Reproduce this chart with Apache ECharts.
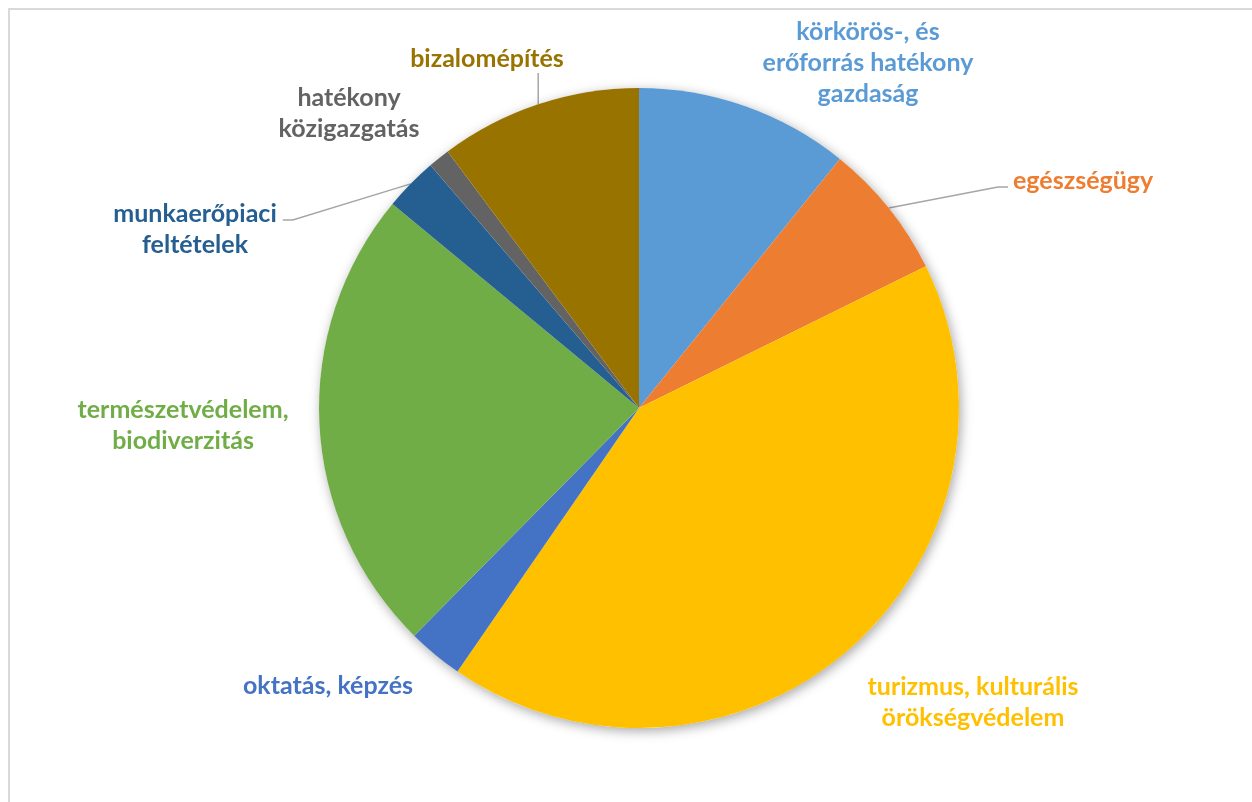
<!DOCTYPE html>
<html>
<head>
<meta charset="utf-8">
<title>pie</title>
<script src="https://cdn.jsdelivr.net/npm/echarts@6/dist/echarts.min.js"></script>
<style>
  html, body { margin: 0; padding: 0; background: #fff; }
  #chart { width: 1252px; height: 802px; }
</style>
</head>
<body>
<div id="chart"></div>
<script>
  // kategóriák (sortörésekkel, ahogy a képen)
  var names = [
    "körkörös-, és\nerőforrás hatékony\ngazdaság",
    "egészségügy",
    "turizmus, kulturális\nörökségvédelem",
    "oktatás, képzés",
    "természetvédelem,\nbiodiverzitás",
    "munkaerőpiaci\nfeltételek",
    "hatékony\nközigazgatás",
    "bizalomépítés"
  ];
  // arányok (%), a szeletek szögeiből becsülve
  var values = [10.8, 6.9, 41.9, 2.8, 23.6, 2.7, 1.1, 10.2];
  var colors = ["#5B9BD5", "#ED7D31", "#FFC000", "#4472C4", "#70AD47", "#255E91", "#636363", "#997300"];

  // címkék helye (középpont / bal szél), és melyiknek van vonala
  var labelPos = [
    { x: 868, y: 63, align: "center" },
    { x: 1013, y: 181, align: "left", line: "left" },
    { x: 973, y: 702, align: "center" },
    { x: 328, y: 686, align: "center" },
    { x: 183, y: 425, align: "center" },
    { x: 195, y: 229, align: "center", line: "right" },
    { x: 349, y: 113, align: "center" },
    { x: 487, y: 59, align: "center", line: "bottom" }
  ];

  var chart = echarts.init(document.getElementById("chart"));

  var pieData = names.map(function (n, i) {
    return {
      name: n,
      value: values[i],
      itemStyle: { color: colors[i] },
      label: { color: colors[i] },
      labelLine: { show: !!labelPos[i].line }
    };
  });

  chart.setOption({
    animation: false,
    graphic: [{
      type: "rect",
      shape: { x: 9, y: 9, width: 1400, height: 1000 },
      style: { fill: "none", stroke: "#d9d9d9", lineWidth: 2 },
      silent: true,
      z: -10
    }],
    series: [
      {
        // árnyék a kör alatt
        type: "pie",
        center: [639, 408],
        radius: 320,
        silent: true,
        label: { show: false },
        labelLine: { show: false },
        itemStyle: {
          color: "#fff",
          shadowBlur: 12,
          shadowColor: "rgba(0,0,0,0.35)",
          shadowOffsetX: 2,
          shadowOffsetY: 3
        },
        data: [1]
      },
      {
        type: "pie",
        center: [639, 408],
        radius: 320,
        startAngle: 90,
        clockwise: true,
        avoidLabelOverlap: false,
        itemStyle: { borderWidth: 0 },
        label: {
          show: true,
          position: "outside",
          formatter: "{b}",
          fontFamily: "Lato",
          fontWeight: "bold",
          fontSize: 25,
          lineHeight: 31
        },
        labelLine: {
          length: 20,
          length2: 10,
          lineStyle: { color: "#a6a6a6", width: 1.5 }
        },
        labelLayout: function (p) {
          if (p.seriesIndex !== 1) return;
          var L = labelPos[p.dataIndex];
          var out = { x: L.x, y: L.y, align: L.align, verticalAlign: "middle" };
          var pts = p.labelLinePoints;
          if (L.line && pts) {
            var r = p.labelRect;
            var rim = pts[0];
            if (L.line === "left") {
              out.labelLinePoints = [rim, [L.x - 15, L.y + 6], [L.x - 5, L.y + 6]];
            } else if (L.line === "right") {
              var right = L.x + r.width / 2;
              out.labelLinePoints = [rim, [right + 16, L.y - 9], [right + 6, L.y - 9]];
            } else {
              out.labelLinePoints = [rim, [rim[0], L.y + 14], [rim[0], L.y + 14]];
            }
          }
          return out;
        },
        data: pieData
      }
    ]
  });
</script>
</body>
</html>
